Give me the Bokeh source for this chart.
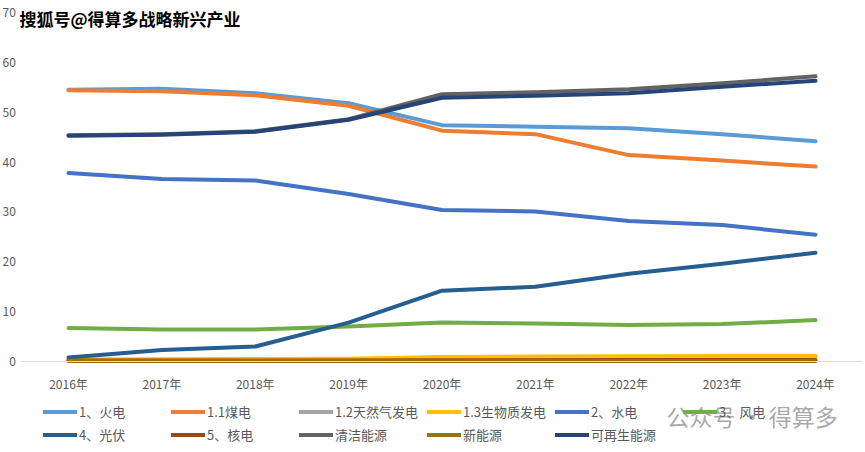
from bokeh.plotting import figure
from bokeh.models import Legend, LegendItem, Label, FixedTicker, Range1d
from bokeh.embed import file_html
from bokeh.resources import INLINE

years = [2016, 2017, 2018, 2019, 2020, 2021, 2022, 2023, 2024]
year_labels = ["2016年", "2017年", "2018年", "2019年", "2020年", "2021年", "2022年", "2023年", "2024年"]

huodian = [54.5, 54.7, 53.8, 51.8, 47.4, 47.1, 46.8, 45.6, 44.2]
meidian = [54.4, 54.2, 53.4, 51.3, 46.3, 45.6, 41.4, 40.3, 39.1]
tianranqi = [0.3, 0.3, 0.35, 0.4, 0.8, 0.85, 0.9, 0.95, 1.0]
shengwuzhi = [0.4, 0.45, 0.5, 0.55, 0.9, 1.0, 1.05, 1.1, 1.1]
shuidian = [37.8, 36.6, 36.3, 33.6, 30.4, 30.1, 28.2, 27.4, 25.4]
fengdian = [6.7, 6.4, 6.4, 7.0, 7.8, 7.6, 7.3, 7.5, 8.3]
guangfu = [0.8, 2.3, 3.0, 7.8, 14.2, 15.0, 17.6, 19.6, 21.8]
hedian = [0.2, 0.2, 0.2, 0.2, 0.25, 0.25, 0.3, 0.3, 0.3]
qingjie = [45.4, 45.6, 46.2, 48.6, 53.6, 54.0, 54.6, 55.8, 57.2]
xinnengyuan = [0.1, 0.1, 0.1, 0.1, 0.1, 0.1, 0.1, 0.1, 0.1]
kezaisheng = [45.3, 45.5, 46.1, 48.5, 52.9, 53.3, 53.8, 55.1, 56.3]

series_names = ["1、火电", "1.1煤电", "1.2天然气发电", "1.3生物质发电", "2、水电", "3、风电",
                "4、光伏", "5、核电", "清洁能源", "新能源", "可再生能源"]
series_values = [huodian, meidian, tianranqi, shengwuzhi, shuidian, fengdian,
                 guangfu, hedian, qingjie, xinnengyuan, kezaisheng]
colors = ["#5B9BD5", "#ED7D31", "#A5A5A5", "#FFC000", "#4472C4", "#70AD47",
          "#255E91", "#9E480E", "#636363", "#997300", "#264478"]
y_ticks = [0, 10, 20, 30, 40, 50, 60, 70]

FONT = "Noto Sans CJK SC"

W, H = 865, 452
# layout in page pixels
frame_right = 862
x_first_px, x_last_px = 68.0, 815.0
y_zero_px, y_top_px = 361.0, 12.0

px_per_year = (x_last_px - x_first_px) / (years[-1] - years[0])
x_start = years[0] - x_first_px / px_per_year
x_end = years[-1] + (frame_right - x_last_px) / px_per_year
px_per_unit = (y_zero_px - y_top_px) / y_ticks[-1]
y_start = -(H - y_zero_px) / px_per_unit
y_end = y_ticks[-1] + y_top_px / px_per_unit

p = figure(width=W, height=H, x_range=Range1d(x_start, x_end), y_range=Range1d(y_start, y_end),
           output_backend="svg", toolbar_location=None,
           min_border_left=0, min_border_right=W - frame_right, min_border_top=0,
           min_border_bottom=0)
p.outline_line_color = None
p.xgrid.grid_line_color = None
p.ygrid.grid_line_color = None
p.background_fill_color = "white"
p.border_fill_color = "white"

band_lo, band_hi = years[0] - 0.5, years[-1] + 0.5

p.xaxis.fixed_location = 0
p.xaxis.bounds = (band_lo, band_hi)
p.xaxis.ticker = FixedTicker(ticks=years)
p.xaxis.major_label_overrides = {y: lab for y, lab in zip(years, year_labels)}
p.xaxis.axis_line_color = "#D9D9D9"
p.xaxis.major_tick_line_color = None
p.xaxis.minor_tick_line_color = None
p.xaxis.major_label_text_color = "#595959"
p.xaxis.major_label_text_font = FONT
p.xaxis.major_label_text_font_size = "12px"
p.xaxis.major_label_standoff = 7

p.yaxis.fixed_location = band_lo
p.yaxis.axis_line_color = None
p.yaxis.major_tick_line_color = None
p.yaxis.minor_tick_line_color = None
p.yaxis.ticker = FixedTicker(ticks=y_ticks)
p.yaxis.major_label_text_color = "#595959"
p.yaxis.major_label_text_font = FONT
p.yaxis.major_label_text_font_size = "12px"
p.yaxis.major_label_standoff = 0

items = []
for name, vals, col in zip(series_names, series_values, colors):
    r = p.line(years, vals, line_color=col, line_width=4, line_join="round", line_cap="round")
    items.append(LegendItem(label=name, renderers=[r]))

legend = Legend(items=items, orientation="horizontal", ncols=6, nrows=2,
                location=(43, 7), padding=5, spacing=2, margin=0,
                glyph_width=34, glyph_height=21, label_standoff=2, label_width=90,
                label_text_font=FONT, label_text_font_size="13px", label_text_color="#595959",
                background_fill_alpha=0, border_line_color=None)
p.add_layout(legend, "center")

title = Label(x=19, y=H - 18, x_units="screen", y_units="screen", text="搜狐号@得算多战略新兴产业",
              text_font=FONT, text_font_size="17px", text_font_style="bold",
              text_color="black", text_baseline="middle")
p.add_layout(title)

wm = Label(x=666, y=H - 415, x_units="screen", y_units="screen", text="公众号 · 得算多",
           text_font=FONT, text_font_size="23px", text_color="#8C8C8C", text_alpha=0.75,
           text_baseline="middle")
p.add_layout(wm)

open("out.html", "w").write(file_html(p, INLINE))
